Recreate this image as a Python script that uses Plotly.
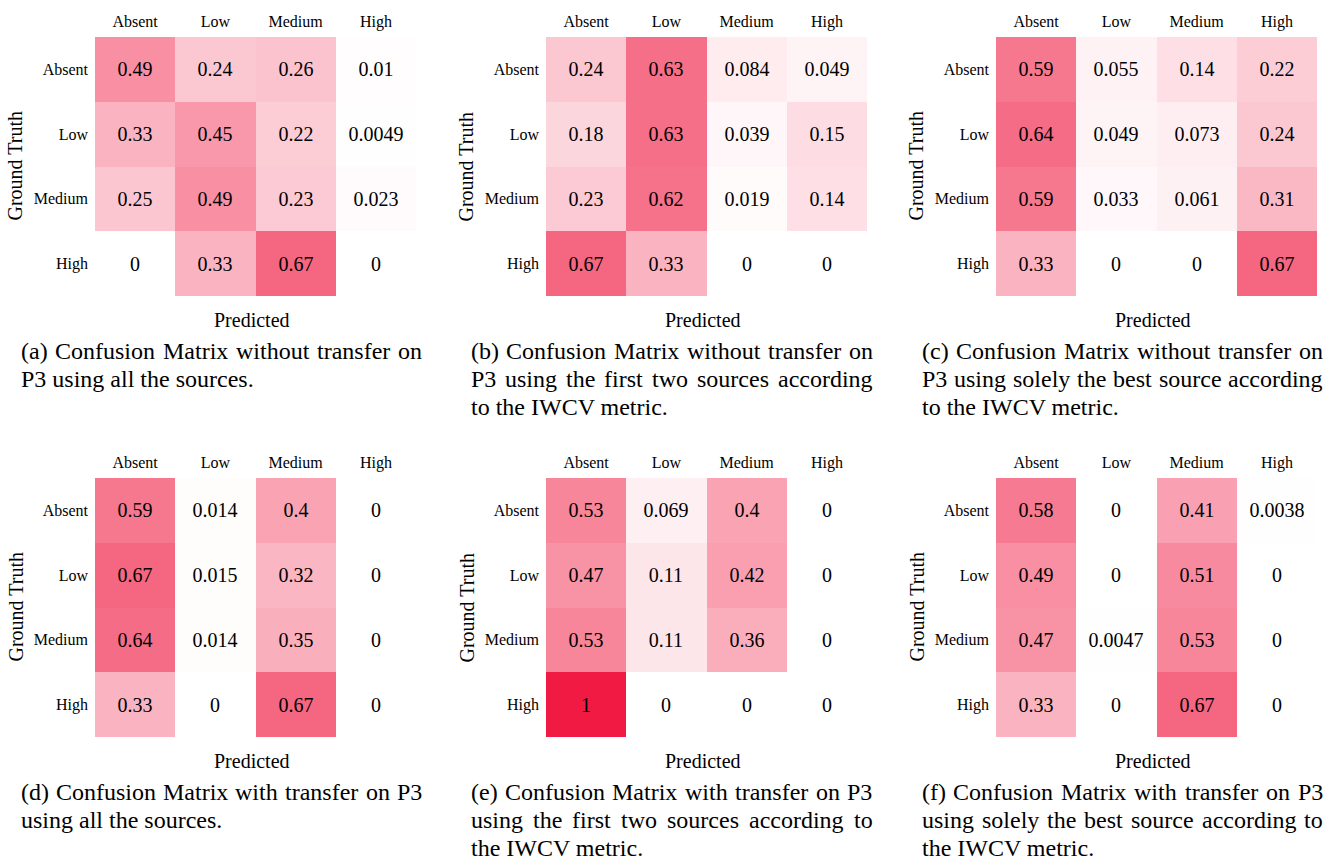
import plotly.graph_objects as go

W, H = 1334, 859
FONT = "'Liberation Serif', 'Times New Roman', Tinos, 'DejaVu Serif', serif"

classes = ["Absent", "Low", "Medium", "High"]

cm_a = [[0.49, 0.24, 0.26, 0.01],
        [0.33, 0.45, 0.22, 0.0049],
        [0.25, 0.49, 0.23, 0.023],
        [0, 0.33, 0.67, 0]]
cm_b = [[0.24, 0.63, 0.084, 0.049],
        [0.18, 0.63, 0.039, 0.15],
        [0.23, 0.62, 0.019, 0.14],
        [0.67, 0.33, 0, 0]]
cm_c = [[0.59, 0.055, 0.14, 0.22],
        [0.64, 0.049, 0.073, 0.24],
        [0.59, 0.033, 0.061, 0.31],
        [0.33, 0, 0, 0.67]]
cm_d = [[0.59, 0.014, 0.4, 0],
        [0.67, 0.015, 0.32, 0],
        [0.64, 0.014, 0.35, 0],
        [0.33, 0, 0.67, 0]]
cm_e = [[0.53, 0.069, 0.4, 0],
        [0.47, 0.11, 0.42, 0],
        [0.53, 0.11, 0.36, 0],
        [1, 0, 0, 0]]
cm_f = [[0.58, 0, 0.41, 0.0038],
        [0.49, 0, 0.51, 0],
        [0.47, 0.0047, 0.53, 0],
        [0.33, 0, 0.67, 0]]

caption_a = ["(a) Confusion Matrix without transfer on", "P3 using all the sources."]
caption_b = ["(b) Confusion Matrix without transfer on", "P3 using the first two sources according", "to the IWCV metric."]
caption_c = ["(c) Confusion Matrix without transfer on", "P3 using solely the best source according", "to the IWCV metric."]
caption_d = ["(d) Confusion Matrix with transfer on P3", "using all the sources."]
caption_e = ["(e) Confusion Matrix with transfer on P3", "using the first two sources according to", "the IWCV metric."]
caption_f = ["(f) Confusion Matrix with transfer on P3", "using solely the best source according to", "the IWCV metric."]

panels = [(cm_a, caption_a), (cm_b, caption_b), (cm_c, caption_c),
          (cm_d, caption_d), (cm_e, caption_e), (cm_f, caption_f)]

# layout (pixels)
col_x0 = [95, 546, 996]
row_y0 = [37, 478]
hm_w, hm_h = 321, 259
cap_left = [19.5, 470, 920.5]
cap_width = 401.5
cap_size = 24

# Times metrics (per 1000 em) for justification of caption lines
TW = {' ': 250, '(': 333, ')': 333, '.': 250, ',': 250,
      'A': 722, 'B': 667, 'C': 667, 'D': 722, 'E': 611, 'F': 556, 'G': 722, 'H': 722,
      'I': 333, 'J': 389, 'K': 722, 'L': 611, 'M': 889, 'N': 722, 'O': 722, 'P': 556,
      'Q': 722, 'R': 667, 'S': 556, 'T': 611, 'U': 722, 'V': 722, 'W': 944, 'X': 722,
      'Y': 722, 'Z': 611,
      'a': 444, 'b': 500, 'c': 444, 'd': 500, 'e': 444, 'f': 333, 'g': 500, 'h': 500,
      'i': 278, 'j': 278, 'k': 500, 'l': 278, 'm': 778, 'n': 500, 'o': 500, 'p': 500,
      'q': 500, 'r': 333, 's': 389, 't': 278, 'u': 500, 'v': 500, 'w': 722, 'x': 500,
      'y': 500, 'z': 444}


def text_w(s, size):
    return sum(TW.get(ch, 500) for ch in s) / 1000.0 * size


def fmt(v):
    return format(v, ".2g")


colorscale = [[0.0, "rgb(255,255,255)"], [1.0, "rgb(240,26,66)"]]

fig = go.Figure()
annotations = []

for k, (cm, caption) in enumerate(panels):
    r, c = divmod(k, 3)
    x0 = col_x0[c]
    y0 = row_y0[r]
    n = k + 1
    xa = "x" if n == 1 else f"x{n}"
    ya = "y" if n == 1 else f"y{n}"
    fig.add_trace(go.Heatmap(
        z=cm, x=classes, y=classes,
        text=[[fmt(v) for v in row] for row in cm],
        texttemplate="%{text}",
        textfont=dict(family=FONT, size=20, color="black"),
        colorscale=colorscale, zmin=0, zmax=1, showscale=False,
        xaxis=xa, yaxis=ya, hoverinfo="skip"))
    axis_common = dict(showgrid=False, zeroline=False, showline=False, ticks="",
                       tickfont=dict(family=FONT, size=16, color="black"))
    fig.layout[("xaxis" if n == 1 else f"xaxis{n}")] = dict(
        domain=[x0 / W, (x0 + hm_w) / W], anchor=ya, side="top",
        ticklabelstandoff=6, **axis_common)
    fig.layout[("yaxis" if n == 1 else f"yaxis{n}")] = dict(
        domain=[1 - (y0 + hm_h) / H, 1 - y0 / H], anchor=xa, autorange="reversed",
        ticklabelstandoff=6, **axis_common)

    # axis titles
    annotations.append(dict(text="Predicted", x=(x0 + hm_w / 2 - 4) / W, y=1 - (y0 + 283) / H,
                            xref="paper", yref="paper", showarrow=False,
                            xanchor="center", yanchor="middle",
                            font=dict(family=FONT, size=20, color="black")))
    annotations.append(dict(text="Ground Truth", x=(x0 - 80) / W, y=1 - (y0 + hm_h / 2) / H,
                            xref="paper", yref="paper", showarrow=False, textangle=-90,
                            xanchor="center", yanchor="middle",
                            font=dict(family=FONT, size=20, color="black")))

    # captions (justified except last line)
    L = cap_left[c]
    for li, line in enumerate(caption):
        yc = 1 - (y0 + 314 + 28 * li) / H
        words = line.split(" ")
        last = li == len(caption) - 1
        if last or len(words) == 1:
            annotations.append(dict(text=line, x=L / W, y=yc, xref="paper", yref="paper",
                                    showarrow=False, xanchor="left", yanchor="middle",
                                    borderpad=0,
                                    font=dict(family=FONT, size=cap_size, color="black")))
        else:
            widths = [text_w(w_, cap_size) for w_ in words]
            gap = (cap_width - sum(widths)) / (len(words) - 1)
            xpos = L
            for wi, (wd, ww) in enumerate(zip(words, widths)):
                annotations.append(dict(text=wd, x=xpos / W, y=yc, xref="paper", yref="paper",
                                        showarrow=False, xanchor="left", yanchor="middle",
                                        borderpad=0,
                                        font=dict(family=FONT, size=cap_size, color="black")))
                xpos += ww + gap

fig.update_layout(width=W, height=H, margin=dict(l=0, r=0, t=0, b=0),
                  paper_bgcolor="white", plot_bgcolor="white",
                  annotations=annotations, showlegend=False)

fig.write_html("out.html")
